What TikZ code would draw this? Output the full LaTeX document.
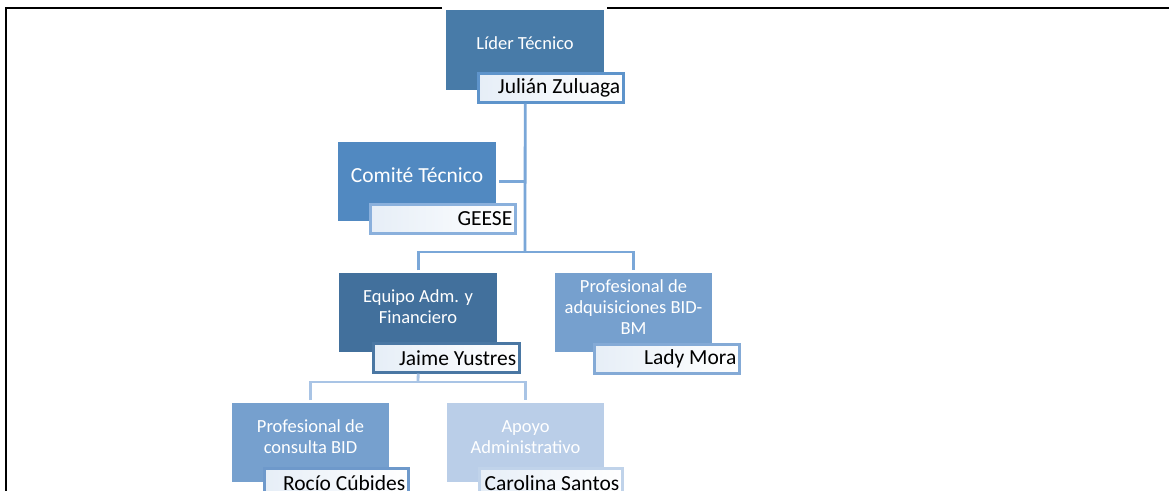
\documentclass[tikz,border=0pt]{standalone}
\usepackage{fontspec}
\setmainfont{Carlito}
\definecolor{cLider}{HTML}{487BA8}
\definecolor{cComite}{HTML}{5189C1}
\definecolor{cEquipo}{HTML}{42709C}
\definecolor{cAdq}{HTML}{76A0CE}
\definecolor{cCons}{HTML}{76A0CE}
\definecolor{cApoyo}{HTML}{BACEE8}
\definecolor{bLider}{HTML}{5E94CB}
\definecolor{bComite}{HTML}{8AB0DC}
\definecolor{bEquipo}{HTML}{4A77A3}
\definecolor{bAdq}{HTML}{84AAD6}
\definecolor{bCons}{HTML}{6E99CB}
\definecolor{bApoyo}{HTML}{C0D3EA}
\definecolor{connA}{HTML}{7AA7D8}
\definecolor{connB}{HTML}{A9C4E5}
\definecolor{paleBlue}{HTML}{E6EEF7}
\tikzset{
  orgbox/.style={anchor=north west, inner sep=0pt, minimum width=158pt, minimum height=80pt},
  namebox/.style={anchor=north west, line width=2.6pt, left color=paleBlue, right color=white,
    inner xsep=3pt, inner ysep=0pt, text width=139pt, align=flush right, minimum height=29pt,
    font=\fontsize{21.5}{24}\selectfont, text=black},
  titletext/.style={text=white, align=center, inner sep=0pt, font=\fontsize{18.5}{21}\selectfont},
  connA/.style={draw=connA, line width=2.8pt},
  connB/.style={draw=connB, line width=2.8pt},
}
\begin{document}
\begin{tikzpicture}[x=1pt,y=-1pt]
\useasboundingbox (0,0) rectangle (1169,490);
\clip (0,0) rectangle (1169,490);
\fill[white] (0,0) rectangle (1169,490);
% frame
\draw[line width=1.6pt] (442,8) -- (6,8) -- (6,492);
\draw[line width=1.6pt] (607,8) -- (1170,8);

% boxes
\node[orgbox, fill=cLider] (lider) at (446,10) {};
\node[orgbox, fill=cComite, minimum height=79pt] (comite) at (338,142) {};
\node[orgbox, fill=cEquipo, minimum height=79pt] (equipo) at (339,273) {};
\node[orgbox, fill=cAdq, minimum width=157pt, minimum height=79pt] (adq) at (555,273) {};
\node[orgbox, fill=cCons, minimum width=157pt, minimum height=79pt] (cons) at (232,403) {};
\node[orgbox, fill=cApoyo, minimum width=157pt, minimum height=79pt] (apoyo) at (447,403) {};

% titles
\node[titletext] (liderT) at (525,43) {Líder Técnico};
\node[titletext, font=\fontsize{21.5}{24}\selectfont] (comiteT) at (417,175) {Comité Técnico};
\node[titletext] (equipoT) at (418,307) {Equipo Adm. y\\Financiero};
\node[titletext] (adqT) at (633.5,307) {Profesional de\\adquisiciones BID-\\BM};
\node[titletext] (consT) at (310.5,437) {Profesional de\\consulta BID};
\node[titletext] (apoyoT) at (525.5,437) {Apoyo\\Administrativo};

% name boxes
\node[namebox, draw=bLider] (liderN) at (477,72) {Julián Zuluaga};
\node[namebox, draw=bComite] (comiteN) at (369,203) {GEESE};
\node[namebox, draw=bEquipo, text width=140pt] (equipoN) at (372,342) {Jaime Yustres};
\node[namebox, draw=bAdq] (adqN) at (593,343) {Lady Mora};
\node[namebox, draw=bCons, text width=138pt] (consN) at (263,467) {Rocío Cúbides};
\node[namebox, draw=bApoyo, text width=137pt] (apoyoN) at (478,467) {Carolina Santos};

% connectors upper level
\coordinate (bus) at (525,252);
\draw[connA] (lider.south |- liderN.south) -- (bus);
\draw[connA] ([xshift=3pt]comite.east) -- (comite.east -| bus);
\draw[connA] ([yshift=3pt]equipo.north) -- (equipo.north |- bus) -- (adq.north |- bus) -- ([yshift=3pt]adq.north);

% connectors lower level
\coordinate (bus2) at (418,382);
\draw[connB] (equipo.south |- equipoN.south) -- (bus2);
\draw[connB] ([yshift=3pt]cons.north) -- (cons.north |- bus2) -- (apoyo.north |- bus2) -- ([yshift=3pt]apoyo.north);
\end{tikzpicture}
\end{document}
